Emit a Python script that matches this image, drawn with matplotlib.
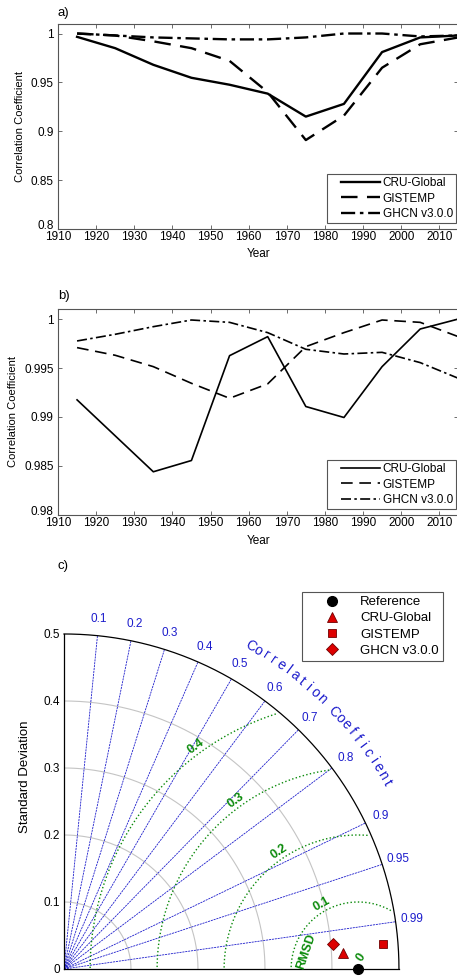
import numpy as np
import matplotlib.pyplot as plt
from matplotlib.lines import Line2D
from matplotlib.legend_handler import HandlerLine2D

plt.rcParams['font.family'] = ['Liberation Sans', 'DejaVu Sans']

# decades (mid-points)
years = [1915, 1925, 1935, 1945, 1955, 1965, 1975, 1985, 1995, 2005, 2015]

# a) correlation coefficients
a_cru = [0.9966, 0.985, 0.968, 0.9547, 0.9476, 0.9385, 0.915, 0.928, 0.981, 0.996, 0.998]
a_gis = [1.0, 0.998, 0.992, 0.985, 0.972, 0.940, 0.891, 0.916, 0.965, 0.989, 0.996]
a_ghcn = [1.0, 0.998, 0.996, 0.995, 0.994, 0.994, 0.996, 1.0, 1.0, 0.997, 0.998]

# b) correlation coefficients
b_cru = [0.99175, 0.98808, 0.98441, 0.98556, 0.99626, 0.9982, 0.99107, 0.98995, 0.99514, 0.99898, 1.0]
b_gis = [0.99708, 0.9963, 0.99514, 0.99344, 0.99191, 0.99338, 0.99718, 0.99861, 0.9999, 0.99966, 0.9982]
b_ghcn = [0.99776, 0.99844, 0.99922, 0.9999, 0.99966, 0.99861, 0.99691, 0.99643, 0.9966, 0.99555, 0.99395]

# c) Taylor diagram
ref_std = 0.439
names = ['CRU-Global', 'GISTEMP', 'GHCN v3.0.0']
stds = [0.4176, 0.4780, 0.4037]
corrs = [0.9984, 0.9970, 0.9957]
marks = ['^', 's', 'D']
msizes = [7, 6, 6]
corr_ticks = [0.1, 0.2, 0.3, 0.4, 0.5, 0.6, 0.7, 0.8, 0.9, 0.95, 0.99]
std_ticks = [0, 0.1, 0.2, 0.3, 0.4, 0.5]
rmsd_levels = [0.1, 0.2, 0.3, 0.4]

fig = plt.figure(figsize=(4.57, 9.77), dpi=100)


def series_panel(rect, cru, gis, ghcn, lw, ylim, yticks, ylabels, ylab_x):
    ax = fig.add_axes(rect)
    ax.plot(years, cru, color='k', lw=lw, label='CRU-Global')
    ax.plot(years, gis, color='k', lw=lw, dashes=(7, 4), label='GISTEMP')
    ax.plot(years, ghcn, color='k', lw=lw, dashes=(6, 2, 1.5, 2), label='GHCN v3.0.0')
    ax.set_xlim(1910, 2015)
    ax.set_ylim(*ylim)
    ax.set_xticks(range(1910, 2011, 10))
    ax.set_yticks(yticks)
    ax.set_yticklabels(ylabels)
    ax.tick_params(direction='in', top=True, right=True, length=3, labelsize=8.5,
                   width=0.6, color='#555555')
    ax.tick_params(axis='x', pad=1.5)
    ax.tick_params(axis='y', pad=3)
    # lowest y label sits just above the corner so it clears the first year label
    ax.get_yticklabels()[0].set_verticalalignment('baseline')
    for s in ax.spines.values():
        s.set_linewidth(0.8)
        s.set_color('#555555')
    ax.set_xlabel('Year', fontsize=8.5)
    ax.set_ylabel('Correlation Coefficient', fontsize=8)
    ax.xaxis.set_label_coords(0.5, -0.095)
    ax.yaxis.set_label_coords(ylab_x, 0.5)
    leg = ax.legend(loc='lower right', bbox_to_anchor=(0.995, 0.027), fontsize=8.5,
                    handlelength=4.2, handletextpad=0.2, borderpad=0.3,
                    labelspacing=0.28, fancybox=False, framealpha=1,
                    borderaxespad=0,
                    handler_map={Line2D: HandlerLine2D(xpad=0.9)})
    leg.get_frame().set_edgecolor('#555555')
    leg.get_frame().set_linewidth(0.8)
    return ax


series_panel([0.1269, 0.7656, 0.876, 0.2098], a_cru, a_gis, a_ghcn, 1.7,
             (0.8, 1.0097), [0.8, 0.85, 0.9, 0.95, 1.0],
             ['0.8', '0.85', '0.9', '0.95', '1'], -0.082)
series_panel([0.1269, 0.4729, 0.876, 0.2111], b_cru, b_gis, b_ghcn, 1.2,
             (0.98, 1.00105), [0.98, 0.985, 0.99, 0.995, 1.0],
             ['0.98', '0.985', '0.99', '0.995', '1'], -0.10)

fig.text(58 / 457, 1 - 13 / 977, 'a)', fontsize=9.5, va='center')
fig.text(58 / 457, 1 - 296 / 977, 'b)', fontsize=9.5, va='center')
fig.text(58 / 457, 1 - 566 / 977, 'c)', fontsize=9.5, va='center')

# ---- Taylor diagram ----
ax = fig.add_axes([0.1400, 0.00819, 0.733, 0.3429])
ax.set_xlim(0, 0.5)
ax.set_ylim(0, 0.5)
for s in ['top', 'right']:
    ax.spines[s].set_visible(False)
ax.spines['left'].set_linewidth(0.9)
ax.spines['bottom'].set_linewidth(0.9)
ax.set_xticks([])
ax.set_yticks(std_ticks)
ax.set_yticklabels(['0', '0.1', '0.2', '0.3', '0.4', '0.5'])
ax.tick_params(axis='y', length=0, labelsize=8.5, pad=3)
ax.set_ylabel('Standard Deviation', fontsize=9.5)
ax.yaxis.set_label_coords(-0.097, 0.573)

th = np.linspace(0, np.pi / 2, 300)
for r in std_ticks[1:-1]:
    ax.plot(r * np.cos(th), r * np.sin(th), color='#c4c4c4', lw=0.8, zorder=1)
ax.plot(0.5 * np.cos(th), 0.5 * np.sin(th), color='k', lw=0.9, clip_on=False, zorder=3)

blue = '#1c1ccc'
for c in corr_ticks:
    t = np.arccos(c)
    ax.plot([0, 0.5 * np.cos(t)], [0, 0.5 * np.sin(t)], color=blue, lw=0.6,
            dashes=(2.5, 1), zorder=2)
    ax.text(0.525 * np.cos(t), 0.525 * np.sin(t), f'{c:g}', color=blue, fontsize=8.5,
            ha='center', va='center', clip_on=False)

title = 'Correlation Coefficient'
angs = np.linspace(60, 30, len(title))
for ch, a in zip(title, angs):
    ar = np.radians(a)
    ax.text(0.557 * np.cos(ar), 0.557 * np.sin(ar), ch, color=blue, fontsize=10,
            rotation=a - 90, ha='center', va='center', rotation_mode='anchor')

green = '#0a8a0a'
phi = np.linspace(0, np.pi, 600)
for R in rmsd_levels:
    x = ref_std + R * np.cos(phi)
    y = R * np.sin(phi)
    keep = (np.hypot(x, y) <= 0.496) & (x >= 0)
    ax.plot(np.where(keep, x, np.nan), np.where(keep, y, np.nan), color=green,
            lw=1.0, ls=':', zorder=2)

lab_ang = [119, 124, 126, 126]
for R, a in zip(rmsd_levels, lab_ang):
    ar = np.radians(a)
    ax.text(ref_std + (R + 0.011) * np.cos(ar), (R + 0.011) * np.sin(ar), f'{R:g}',
            color=green, fontsize=9, fontweight='bold', rotation=a - 90,
            ha='center', va='center')
ar = np.radians(161)
ax.text(ref_std + 0.082 * np.cos(ar), 0.082 * np.sin(ar), 'RMSD', color=green,
        fontsize=9, fontweight='bold', rotation=71, ha='center', va='center')
ax.text(ref_std + 0.005, 0.018, '0', color=green, fontsize=9, fontweight='bold',
        rotation=55, ha='center', va='center')

ax.plot([ref_std], [0], 'o', color='k', ms=7, clip_on=False, zorder=5,
        label='Reference')
for n, s, c, m, ms in zip(names, stds, corrs, marks, msizes):
    t = np.arccos(c)
    ax.plot([s * np.cos(t)], [s * np.sin(t)], marker=m, ls='none', ms=ms,
            mfc='#dd0000', mec='#700000', mew=0.6, zorder=5, label=n)

handles, labels = ax.get_legend_handles_labels()
leg = fig.legend(handles, labels, loc='upper right', bbox_to_anchor=(0.969, 0.394),
                 fontsize=9.5, handlelength=4.0, handletextpad=0.15, borderpad=0.3,
                 labelspacing=0.3, fancybox=False, framealpha=1, borderaxespad=0)
leg.get_frame().set_edgecolor('#555555')
leg.get_frame().set_linewidth(0.8)

fig.savefig('out.png', dpi=100)
